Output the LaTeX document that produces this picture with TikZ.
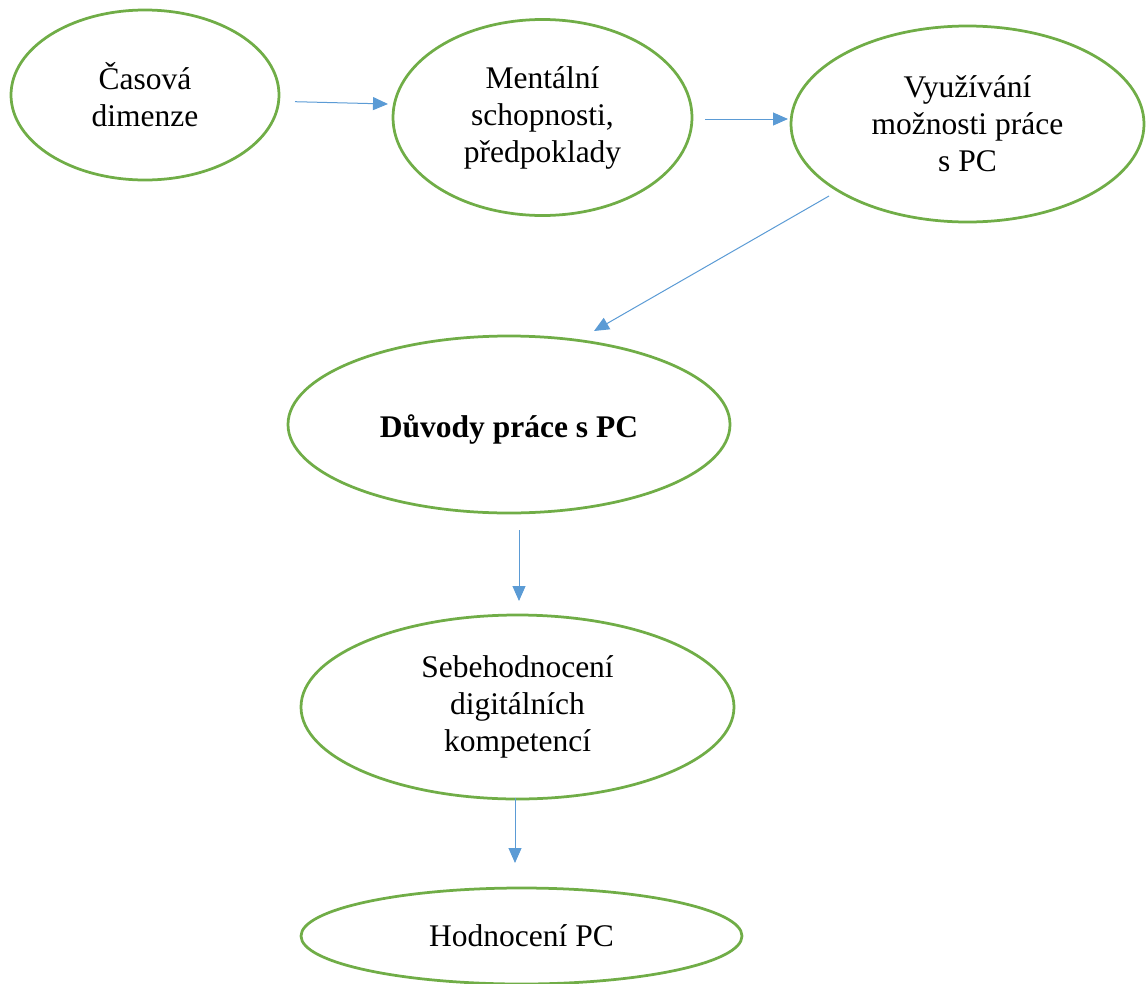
\documentclass[tikz,border=0pt]{standalone}
\usepackage{fontspec}
\setmainfont{Liberation Serif}
\usetikzlibrary{shapes.geometric,arrows.meta}
\definecolor{egreen}{HTML}{70AD47}
\definecolor{ablue}{HTML}{5B9BD5}
\begin{document}
\begin{tikzpicture}[x=1pt,y=-1pt,
  oval/.style={draw=egreen,line width=2.75pt,ellipse,inner sep=0pt,align=center,
    font=\fontsize{31.5}{37}\selectfont},
  arr/.style={draw=ablue,line width=1pt,-{Triangle[length=15pt,width=13pt]}}]
\useasboundingbox (0,0) rectangle (1146,983);
\node[oval,minimum width=268,minimum height=170] (cas) at (145,95) {Časová\\dimenze};
\node[oval,minimum width=299,minimum height=196] (ment) at (542.5,117.5) {Mentální\\schopnosti,\\předpoklady};
\node[oval,minimum width=353,minimum height=196] (vyu) at (967.5,124) {Využívání\\možnosti práce\\s PC};
\node[oval,minimum width=442,minimum height=177,text height=25pt,text depth=0pt] (duv) at (509,424.5) {\bfseries Důvody práce s PC};
\node[oval,minimum width=433,minimum height=184] (seb) at (517.5,707) {Sebehodnocení\\digitálních\\kompetencí};
\node[oval,minimum width=441,minimum height=96] (hod) at (521.5,936) {Hodnocení PC};
\coordinate (a1s) at (295,101.7); \coordinate (a1e) at (388,104);
\coordinate (a2s) at (705,119);   \coordinate (a2e) at (788,119);
\coordinate (a3s) at (829,196);   \coordinate (a3e) at (594,331);
\coordinate (a4s) at (519,530);   \coordinate (a4e) at (519,601);
\coordinate (a5s) at (515,798);   \coordinate (a5e) at (515,863);
\draw[arr] (a1s) -- (a1e);
\draw[arr] (a2s) -- (a2e);
\draw[arr] (a3s) -- (a3e);
\draw[arr] (a4s) -- (a4e);
\draw[arr] (a5s) -- (a5e);
\end{tikzpicture}
\end{document}
